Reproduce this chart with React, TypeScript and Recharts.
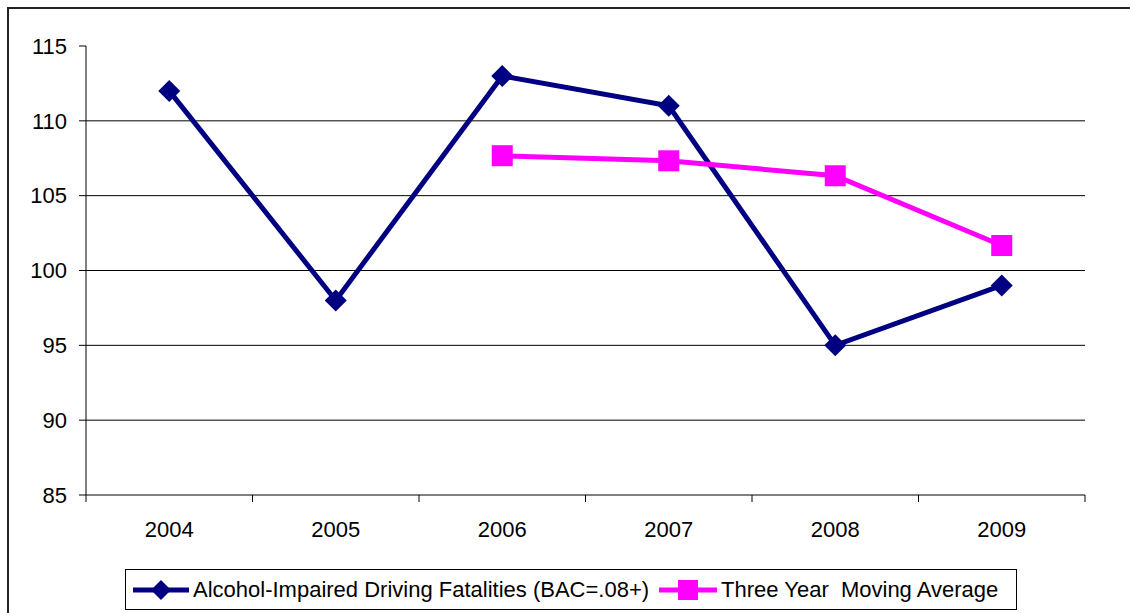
import React from "react";
import {
  LineChart,
  Line,
  XAxis,
  YAxis,
  ReferenceLine,
  Legend,
} from "recharts";

const years = ["2004", "2005", "2006", "2007", "2008", "2009"];
const fatalities = [112, 98, 113, 111, 95, 99];
const movingAvg = [null, null, 107.67, 107.33, 106.33, 101.67];
const yTicks = [85, 90, 95, 100, 105, 110, 115];
const gridValues = [90, 95, 100, 105, 110];

const NAVY = "#000080";
const MAGENTA = "#FF00FF";
const FONT = "Arial, 'Liberation Sans', sans-serif";

const data = years.map((year, i) => ({
  year,
  fatalities: fatalities[i],
  avg: movingAvg[i],
}));

const W = 1120;
const H = 600;
// legend (41px) is counted into the bottom offset by recharts
const margin = { top: 37, right: 44, bottom: 43, left: 17 };
const Y_AXIS_W = 60;
const plotW = W - margin.left - margin.right - Y_AXIS_W;
const halfBand = plotW / years.length / 2;

const Diamond = (props: any) => {
  const { cx, cy } = props;
  if (cx == null || cy == null) return null;
  const r = 11;
  return (
    <polygon
      points={`${cx},${cy - r} ${cx + r},${cy} ${cx},${cy + r} ${cx - r},${cy}`}
      fill={NAVY}
    />
  );
};

const Square = (props: any) => {
  const { cx, cy } = props;
  if (cx == null || cy == null) return null;
  const s = 10.5;
  return <rect x={cx - s} y={cy - s} width={s * 2} height={s * 2} fill={MAGENTA} />;
};

const XTick = (props: any) => {
  const { x, y, payload, index } = props;
  return (
    <g>
      <line x1={x - halfBand} x2={x - halfBand} y1={y} y2={y + 7} stroke="#000" />
      {index === years.length - 1 && (
        <line x1={x + halfBand} x2={x + halfBand} y1={y} y2={y + 7} stroke="#000" />
      )}
      <text x={x} y={y + 42} textAnchor="middle" fontSize={22} fontFamily={FONT} fill="#000">
        {payload.value}
      </text>
    </g>
  );
};

const LegendBox = () => (
  <div
    style={{
      width: 892,
      height: 41,
      border: "1px solid #000",
      boxSizing: "border-box",
      display: "flex",
      alignItems: "center",
      fontFamily: FONT,
      fontSize: 22,
      color: "#000",
      background: "#fff",
      whiteSpace: "nowrap",
    }}
  >
    <svg width={56} height={22} style={{ marginLeft: 7, marginRight: 4 }}>
      <line x1={0} x2={56} y1={11} y2={11} stroke={NAVY} strokeWidth={5} />
      <polygon points="28,1 38,11 28,21 18,11" fill={NAVY} />
    </svg>
    <span>Alcohol-Impaired Driving Fatalities (BAC=.08+)</span>
    <svg width={58} height={22} style={{ marginLeft: 10, marginRight: 4 }}>
      <line x1={0} x2={58} y1={11} y2={11} stroke={MAGENTA} strokeWidth={5} />
      <rect x={19} y={1} width={20} height={20} fill={MAGENTA} />
    </svg>
    <span>Three Year&nbsp; Moving Average</span>
  </div>
);

export default function App() {
  return (
    <div style={{ position: "fixed", inset: 0, overflow: "hidden", background: "#fff" }}>
      <div
        style={{
          position: "absolute",
          left: 7,
          top: 7,
          width: 1160,
          height: 640,
          border: "2px solid #222",
          boxSizing: "border-box",
        }}
      >
        <LineChart width={W} height={H} data={data} margin={margin}>
          {gridValues.map((v) => (
            <ReferenceLine key={v} y={v} stroke="#000" strokeWidth={1} />
          ))}
          <XAxis
            dataKey="year"
            axisLine={{ stroke: "#000" }}
            tickLine={false}
            tickSize={0}
            tickMargin={0}
            height={30}
            padding={{ left: halfBand, right: halfBand }}
            tick={<XTick />}
            interval={0}
          />
          <YAxis
            domain={[85, 115]}
            ticks={yTicks}
            width={Y_AXIS_W}
            axisLine={{ stroke: "#000" }}
            tickLine={{ stroke: "#000" }}
            tickSize={7}
            tickMargin={12}
            tick={{ fontSize: 22, fontFamily: FONT, fill: "#000" }}
            interval={0}
          />
          <Line
            dataKey="fatalities"
            name="Alcohol-Impaired Driving Fatalities (BAC=.08+)"
            stroke={NAVY}
            strokeWidth={5}
            dot={<Diamond />}
            activeDot={false}
            isAnimationActive={false}
          />
          <Line
            dataKey="avg"
            name="Three Year Moving Average"
            stroke={MAGENTA}
            strokeWidth={5}
            dot={<Square />}
            activeDot={false}
            connectNulls={false}
            isAnimationActive={false}
          />
          <Legend
            content={<LegendBox />}
            wrapperStyle={{ position: "absolute", left: 116, top: 560, width: 892, bottom: "auto" }}
          />
        </LineChart>
      </div>
    </div>
  );
}
